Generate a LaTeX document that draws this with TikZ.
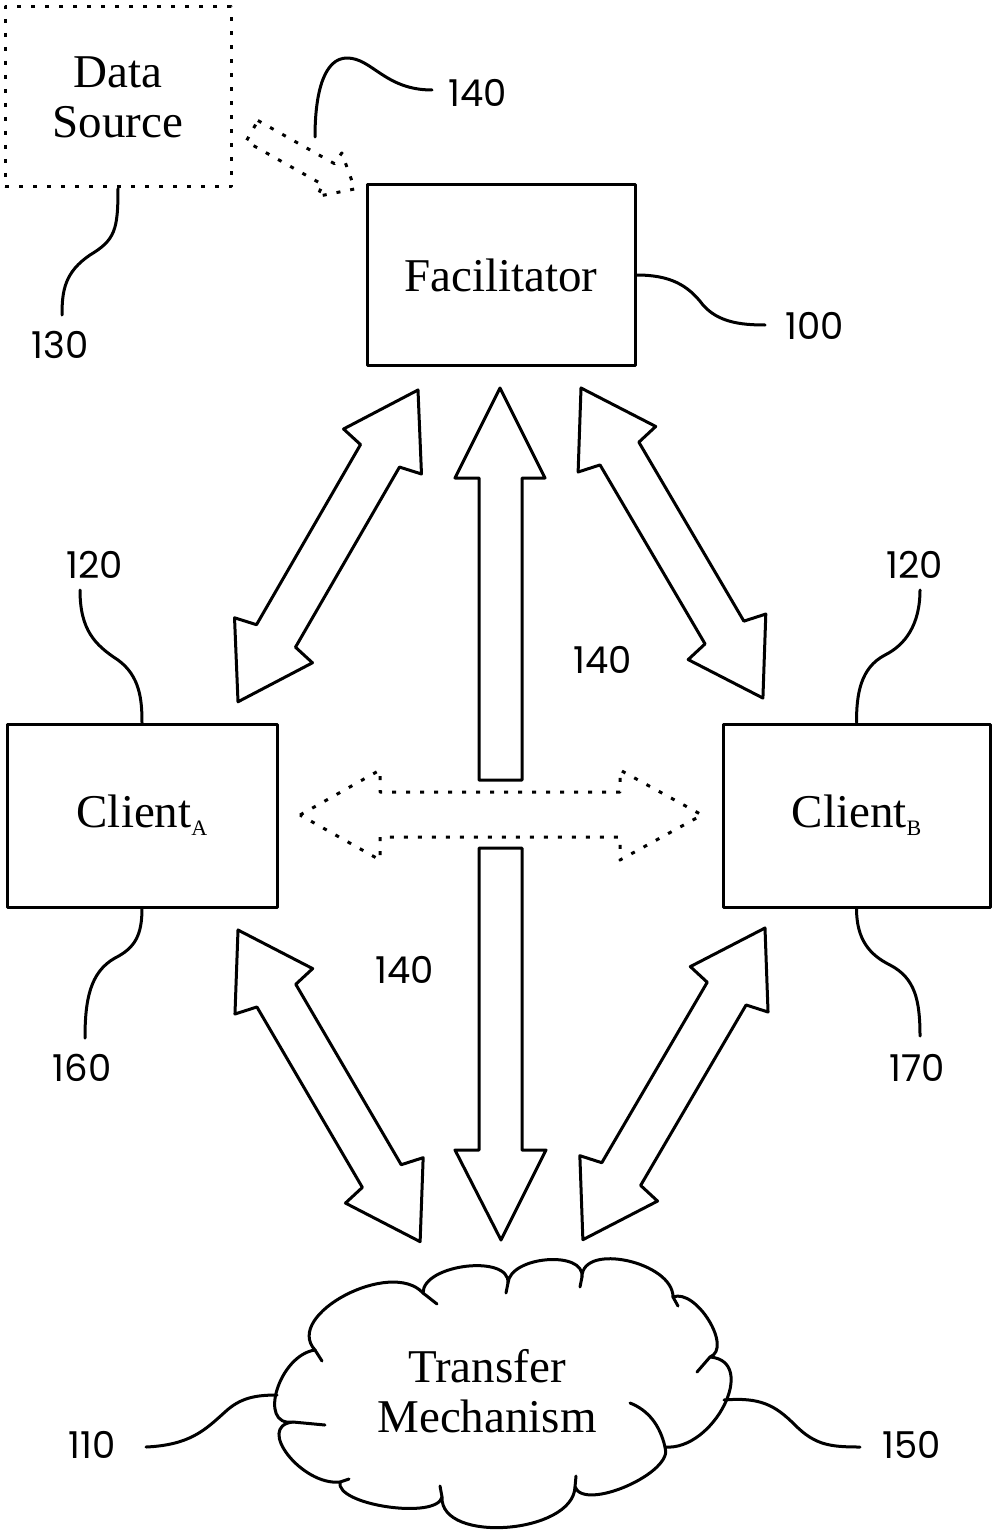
\documentclass[tikz,border=0pt]{standalone}
\usepackage{fontspec}
\setmainfont{Liberation Serif}
\newfontfamily\NumFam{Poppins}
\newcommand{\NumFont}{\NumFam\fontsize{37}{37}\selectfont}
\newcommand{\BoxFont}{\rmfamily\fontsize{47}{50}\selectfont}
\newcommand{\SubFont}{\rmfamily\fontsize{22}{22}\selectfont}
\newcommand{\DblArrow}[4]{%
  \draw[bigarrow,shift={(#1,#2)},rotate=#3]
    (0,0) -- (71,45) -- (76,22.5) -- (#4-76,22.5) -- (#4-71,45) -- (#4,0)
    -- (#4-71,-45) -- (#4-76,-22.5) -- (76,-22.5) -- (71,-45) -- cycle;}
\tikzset{
  ln/.style={line width=3pt, line join=round, line cap=round},
  bigarrow/.style={ln, draw=black, fill=white},
  dotline/.style={line width=3pt, line join=round, dash pattern=on 4pt off 10pt},
  box/.style={ln, draw=black, fill=white, inner sep=0pt, font=\BoxFont, align=center},
  dotbox/.style={dotline, draw=black, fill=white, inner sep=0pt, font=\BoxFont, align=center},
  num/.style={font=\NumFont, inner sep=0pt},
  lead/.style={ln, draw=black}
}
\begin{document}
\begin{tikzpicture}[x=1pt,y=-1pt]
\useasboundingbox (0,0) rectangle (993,1533);
\fill[white] (0,0) rectangle (993,1533);

% boxes
\node[dotbox, minimum width=226pt, minimum height=180pt] (ds) at (118,97) {Data\\Source};
\node[box, minimum width=268pt, minimum height=180pt] (fac) at (501,275) {Facilitator};
\node[box, minimum width=270pt, minimum height=183pt] (ca) at (142,815.5) {Client\raisebox{-8pt}{\SubFont A}};
\node[box, minimum width=267pt, minimum height=183pt] (cb) at (856.5,815.5) {Client\raisebox{-8pt}{\SubFont B}};

% data source -> facilitator (dotted block arrow)
\draw[dotline, draw=black, fill=white, shift={(252,131)}, rotate=-29.4]
  (0,-12) -- (88,-12) -- (89,-25) -- (118,0) -- (89,25) -- (88,12) -- (0,12) -- cycle;

% double block arrows
\DblArrow{418}{390}{-120}{360}
\DblArrow{581}{388}{-59.6}{359.5}
\DblArrow{238}{930}{-59.7}{361}
\DblArrow{765}{928}{-120.3}{361}

% vertical arrow, interrupted
\draw[bigarrow] (500,388) -- (545,478) -- (522,478) -- (522,780) -- (479,780) -- (479,478) -- (455,478) -- cycle;
\draw[bigarrow] (479,848) -- (522,848) -- (522,1150) -- (546,1150) -- (501,1240) -- (455,1150) -- (479,1150) -- cycle;

% dotted horizontal double arrow
\draw[dotline, draw=black] (300,815) -- (380,770) -- (380,792) -- (620,792) -- (620,770) -- (702,815)
  -- (620,860) -- (620,837) -- (380,837) -- (380,860) -- cycle;

% cloud
\draw[ln, fill=white] (423,1293) .. controls (423,1264) and (510,1254) .. (508,1283)
  .. controls (510,1256) and (585,1250) .. (582,1277)
  .. controls (582,1242) and (673,1262) .. (673,1297)
  .. controls (696,1288) and (733,1348) .. (710,1357)
  .. controls (759,1361) and (714,1451) .. (665,1447)
  .. controls (675,1472) and (585,1512) .. (575,1487)
  .. controls (573,1534) and (440,1544) .. (442,1497)
  .. controls (437,1520) and (335,1505) .. (340,1482)
  .. controls (302,1486) and (255,1426) .. (293,1422)
  .. controls (257,1427) and (279,1355) .. (315,1350)
  .. controls (283,1315) and (391,1258) .. (423,1293) -- cycle;
\draw[ln] (423,1293) -- (437,1304);
\draw[ln] (508,1283) -- (506,1293);
\draw[ln] (582,1277) -- (580,1287);
\draw[ln] (673,1297) -- (678,1306);
\draw[ln] (710,1357) -- (697,1372);
\draw[ln] (665,1447) .. controls (660,1425) and (648,1410) .. (630,1403);
\draw[ln] (575,1487) -- (576,1476);
\draw[ln] (442,1497) -- (440,1486);
\draw[ln] (340,1482) -- (349,1479);
\draw[ln] (293,1422) -- (325,1425);
\draw[ln] (315,1350) -- (322,1361);
\node[font=\BoxFont, align=center, inner sep=0pt] (tm) at (487,1391) {Transfer\\Mechanism};

% reference numerals
\node[num] (n140a) at (478,93) {140};
\node[num] (n100) at (815,326) {100};
\node[num] (n130) at (60,345) {130};
\node[num] (n120a) at (95,565) {120};
\node[num] (n120b) at (915,565) {120};
\node[num] (n140b) at (603,660) {140};
\node[num] (n140c) at (405,970) {140};
\node[num] (n160) at (82,1068) {160};
\node[num] (n170) at (917,1068) {170};
\node[num] (n110) at (92,1445) {110};
\node[num] (n150) at (912,1445) {150};

% leader end points
\coordinate (e130) at (62,315);
\coordinate (e140a) at (432,90);
\coordinate (s140a) at (315,137);
\coordinate (e100) at (765,325);
\coordinate (e120a) at (80,590);
\coordinate (e120b) at (920,590);
\coordinate (e160) at (85,1038);
\coordinate (e170) at (920,1036);
\coordinate (e110) at (146,1447);
\coordinate (c110) at (277,1395);
\coordinate (e150) at (860,1447);
\coordinate (c150) at (724,1400);

% leader lines
\draw[lead] (ds.south) .. controls (118,230) and (115,240) .. (90,255) .. controls (65,272) and (62,290) .. (e130);
\draw[lead] (s140a) .. controls (315,90) and (325,58) .. (347,58) .. controls (372,58) and (385,90) .. (e140a);
\draw[lead] (fac.east) .. controls (670,275) and (688,285) .. (703,305) .. controls (718,322) and (740,325) .. (e100);
\draw[lead] (e120a) .. controls (80,630) and (95,645) .. (118,660) .. controls (140,676) and (142,700) .. (ca.north);
\draw[lead] (ca.south) .. controls (142,935) and (135,948) .. (115,958) .. controls (90,972) and (85,1000) .. (e160);
\draw[lead] (e120b) .. controls (920,625) and (905,645) .. (885,655) .. controls (860,668) and (856.5,695) .. (cb.north);
\draw[lead] (cb.south) .. controls (856.5,940) and (870,955) .. (890,965) .. controls (915,978) and (920,1000) .. (e170);
\draw[lead] (e110) .. controls (190,1445) and (205,1430) .. (225,1412) .. controls (240,1398) and (255,1395) .. (c110);
\draw[lead] (c150) .. controls (760,1397) and (775,1405) .. (795,1425) .. controls (815,1445) and (830,1447) .. (e150);
\end{tikzpicture}
\end{document}
